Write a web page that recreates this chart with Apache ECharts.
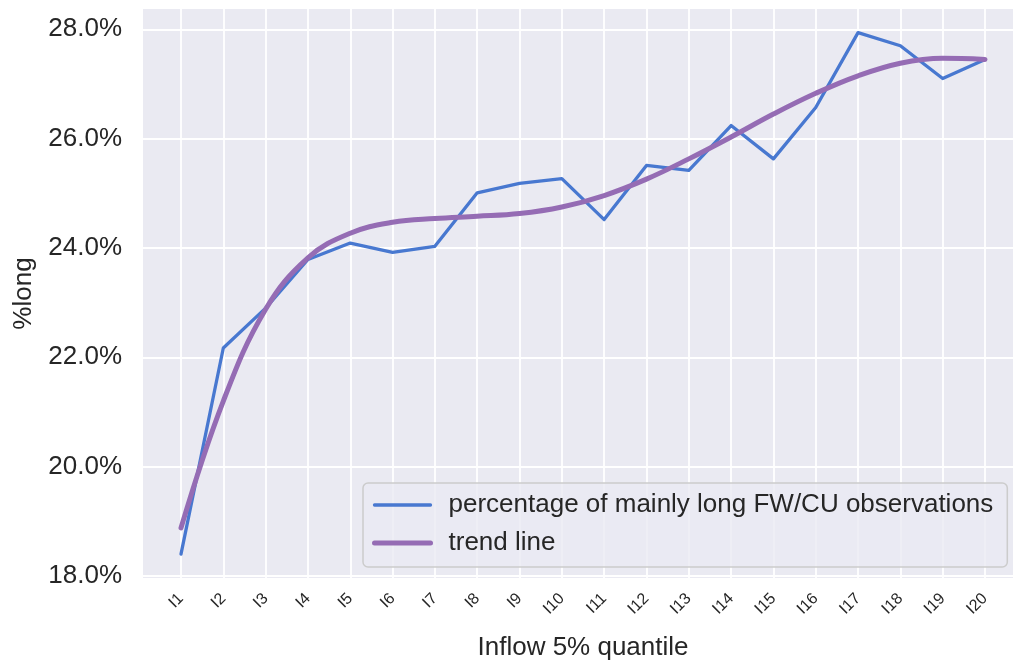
<!DOCTYPE html>
<html>
<head>
<meta charset="utf-8">
<script src="https://cdn.jsdelivr.net/npm/echarts@6/dist/echarts.min.js"></script>
<style>
  html, body { margin: 0; padding: 0; background: #fff; }
  #chart { width: 1013px; height: 660px; }
</style>
</head>
<body>
<div id="chart"></div>
<script>
// categories on the x axis
const quantiles = ['I1', 'I2', 'I3', 'I4', 'I5', 'I6', 'I7', 'I8', 'I9', 'I10',
  'I11', 'I12', 'I13', 'I14', 'I15', 'I16', 'I17', 'I18', 'I19', 'I20'];

// % of mainly long FW/CU observations
const pctLong = [18.40, 22.17, 22.90, 23.79, 24.09, 23.92, 24.03, 25.01, 25.18, 25.27,
  24.52, 25.51, 25.42, 26.24, 25.63, 26.57, 27.94, 27.70, 27.10, 27.45];

// fitted trend line, sampled at each category
const trend = [18.88, 21.20, 22.88, 23.82, 24.27, 24.47, 24.54, 24.58, 24.63, 24.75,
  24.96, 25.26, 25.63, 26.03, 26.45, 26.83, 27.15, 27.38, 27.47, 27.45];

const yMin = 17.945;
const yMax = 28.39;

const ink = '#262626';
const font = 'Liberation Sans, Arial, sans-serif';

const chart = echarts.init(document.getElementById('chart'));

const option = {
  backgroundColor: '#ffffff',
  textStyle: { fontFamily: font },
  grid: [
    // background panel (full plot area)
    { left: 143, right: 0, top: 8, bottom: 81, show: true, backgroundColor: '#eaeaf2', borderWidth: 0, outerBoundsMode: 'none', containLabel: false },
    // data area, from first to last category
    { left: 181, right: 28, top: 8, bottom: 81, outerBoundsMode: 'none', containLabel: false },
  ],
  xAxis: [
    { gridIndex: 0, type: 'value', min: 0, max: 1, show: false },
    {
      gridIndex: 1,
      type: 'category',
      data: quantiles,
      boundaryGap: false,
      axisLine: { show: false },
      axisTick: { show: false },
      splitLine: { show: true, lineStyle: { color: '#ffffff', width: 1.8 } },
      axisLabel: { rotate: 45, fontSize: 16, color: ink, margin: 17, interval: 0 },
      name: 'Inflow 5% quantile',
      nameLocation: 'middle',
      nameGap: 56,
      nameTextStyle: { fontSize: 26, color: ink },
    },
  ],
  yAxis: [
    {
      gridIndex: 0,
      type: 'value',
      min: yMin,
      max: yMax,
      splitNumber: 5,
      axisLine: { show: false },
      axisTick: { show: false },
      splitLine: { show: true, lineStyle: { color: '#ffffff', width: 1.8 } },
      axisLabel: {
        fontSize: 26,
        color: ink,
        margin: 21,
        padding: [7, 0, 0, 0],
        formatter: (v) => {
          const k = v / 2;
          if (Math.abs(k - Math.round(k)) > 1e-6) return '';
          return v.toFixed(1) + '%';
        },
      },
      name: '%long',
      nameLocation: 'middle',
      nameGap: 106,
      nameTextStyle: { fontSize: 26, color: ink },
    },
    { gridIndex: 1, type: 'value', min: yMin, max: yMax, show: false, splitLine: { show: false } },
  ],
  legend: {
    left: 363,
    top: 483,
    orient: 'vertical',
    itemWidth: 56,
    itemHeight: 14,
    itemGap: 12,
    padding: [9, 14, 11, 9],
    backgroundColor: 'rgba(234,234,242,0.8)',
    borderColor: '#cccccc',
    borderWidth: 1.5,
    borderRadius: 5,
    itemStyle: { opacity: 0 },
    textStyle: { fontSize: 26, color: ink, padding: [0, 0, 0, 13] },
    data: [
      { name: 'percentage of mainly long FW/CU observations', lineStyle: { width: 3.3 } },
      { name: 'trend line', lineStyle: { width: 5 } },
    ],
  },
  series: [
    {
      name: 'percentage of mainly long FW/CU observations',
      type: 'line',
      xAxisIndex: 1,
      yAxisIndex: 1,
      data: pctLong,
      symbol: 'none',
      color: '#4878d0',
      lineStyle: { width: 3.3, color: '#4878d0', cap: 'round', join: 'round' },
      z: 3,
    },
    {
      name: 'trend line',
      type: 'line',
      xAxisIndex: 1,
      yAxisIndex: 1,
      data: trend,
      smooth: 0.4,
      symbol: 'none',
      color: '#956cb4',
      lineStyle: { width: 5, color: '#956cb4', cap: 'round', join: 'round' },
      z: 4,
    },
  ],
};

chart.setOption(option);
</script>
</body>
</html>
